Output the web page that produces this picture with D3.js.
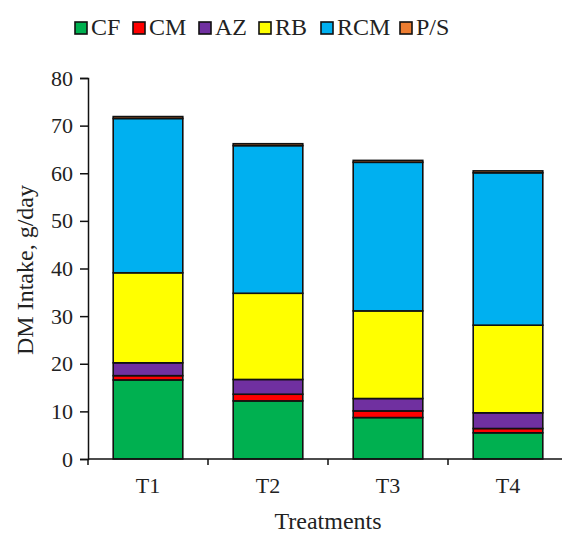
<!DOCTYPE html>
<html>
<head>
<meta charset="utf-8">
<script src="https://cdn.jsdelivr.net/npm/d3@7"></script>
<style>
  body { margin: 0; background: #fff; }
  svg { display: block; }
  text { font-family: "Liberation Serif", "Times New Roman", serif; fill: #222; }
</style>
</head>
<body>
<svg id="chart" width="562" height="534"></svg>
<script>
// DM intake (g/day) by feed component for each treatment
const treatments = ["T1", "T2", "T3", "T4"];
const components = ["CF", "CM", "AZ", "RB", "RCM", "P/S"];
const cf  = [16.6, 12.2, 8.7, 5.5];
const cm  = [0.9, 1.4, 1.4, 0.9];
const az  = [2.7, 3.1, 2.6, 3.3];
const rb  = [18.9, 18.1, 18.4, 18.4];
const rcm = [32.4, 31.0, 31.2, 32.0];
const ps  = [0.4, 0.4, 0.4, 0.4];
const yTicks = [0, 10, 20, 30, 40, 50, 60, 70, 80];
const colors = ["#00B050", "#FF0000", "#7030A0", "#FFFF00", "#00B0F0", "#ED7D31"];

const seriesValues = [cf, cm, az, rb, rcm, ps];
const rows = treatments.map((t, i) => {
  const r = { treatment: t };
  components.forEach((c, j) => { r[c] = seriesValues[j][i]; });
  return r;
});

const svg = d3.select("#chart");
const x = d3.scaleBand().domain(treatments).range([88, 568])
  .paddingInner(0.42).paddingOuter(0.21);
const y = d3.scaleLinear().domain([0, 80]).range([459, 78]);

const stack = d3.stack().keys(components)(rows);
const color = d3.scaleOrdinal().domain(components).range(colors);

// stacked bars
svg.append("g").selectAll("g").data(stack).join("g")
  .attr("fill", d => color(d.key))
  .selectAll("rect").data(d => d).join("rect")
  .attr("x", d => x(d.data.treatment))
  .attr("width", x.bandwidth())
  .attr("y", d => y(d[1]))
  .attr("height", d => y(d[0]) - y(d[1]))
  .attr("stroke", "#111")
  .attr("stroke-width", 1.6);

// y axis
const yAxis = svg.append("g").attr("transform", "translate(88,0)")
  .call(d3.axisLeft(y).tickValues(yTicks).tickSize(8).tickPadding(7));
yAxis.select(".domain").attr("stroke", "#111").attr("stroke-width", 1.5);
yAxis.selectAll(".tick line").attr("stroke", "#111").attr("stroke-width", 1.5);
yAxis.selectAll("text").attr("font-size", 22).attr("font-family", "Liberation Serif").attr("fill", "#333");

// x axis: baseline with ticks at category boundaries
const xg = svg.append("g");
xg.append("line").attr("x1", 88).attr("x2", 568).attr("y1", y(0)).attr("y2", y(0))
  .attr("stroke", "#111").attr("stroke-width", 1.5);
const bounds = treatments.map(t => x(t) - x.step() * x.paddingInner() / 2);
bounds[0] = 88;
bounds.push(568);
xg.selectAll("line.tk").data(bounds).join("line").attr("class", "tk")
  .attr("x1", d => d).attr("x2", d => d)
  .attr("y1", y(0)).attr("y2", y(0) + 6)
  .attr("stroke", "#111").attr("stroke-width", 1.5);
xg.selectAll("text").data(treatments).join("text")
  .attr("x", d => x(d) + x.bandwidth() / 2)
  .attr("y", 493)
  .attr("text-anchor", "middle")
  .attr("font-size", 22)
  .attr("fill", "#333")
  .text(d => d);

// axis titles
svg.append("text").attr("x", 328).attr("y", 529).attr("text-anchor", "middle")
  .attr("font-size", 24).attr("fill", "#333").text("Treatments");
svg.append("text").attr("transform", "translate(33,270) rotate(-90)")
  .attr("text-anchor", "middle").attr("font-size", 24).attr("fill", "#333")
  .text("DM Intake, g/day");

// legend
const legendX = [75, 133, 199, 259, 321, 400];
const lg = svg.append("g").selectAll("g").data(components).join("g")
  .attr("transform", (d, i) => `translate(${legendX[i]},22)`);
lg.append("rect").attr("width", 12).attr("height", 12)
  .attr("fill", d => color(d)).attr("stroke", "#111").attr("stroke-width", 1.6);
lg.append("text").attr("x", 16).attr("y", 13).attr("font-size", 24).attr("fill", "#333")
  .text(d => d);
</script>
</body>
</html>
